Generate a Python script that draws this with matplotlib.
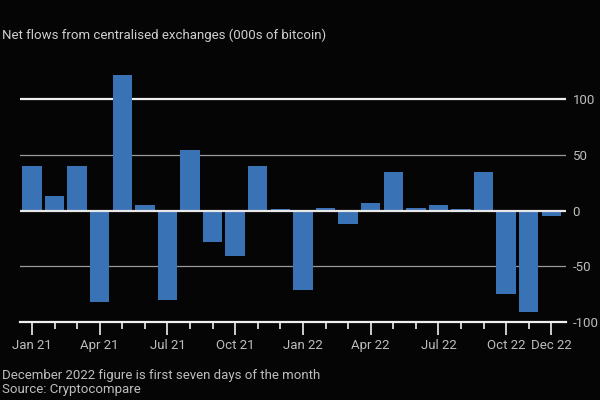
import numpy as np
import matplotlib.pyplot as plt

months = ["Jan 21", "Feb 21", "Mar 21", "Apr 21", "May 21", "Jun 21",
          "Jul 21", "Aug 21", "Sep 21", "Oct 21", "Nov 21", "Dec 21",
          "Jan 22", "Feb 22", "Mar 22", "Apr 22", "May 22", "Jun 22",
          "Jul 22", "Aug 22", "Sep 22", "Oct 22", "Nov 22", "Dec 22"]
net_flows = [40, 13, 40, -82, 122, 5, -80, 54, -28, -41, 40, 1,
             -71, 2, -12, 7, 35, 2, 5, 1, 35, -75, -91, -5]
labelled = ["Jan 21", "Apr 21", "Jul 21", "Oct 21", "Jan 22",
            "Apr 22", "Jul 22", "Oct 22", "Dec 22"]
yticks = [-100, -50, 0, 50, 100]

plt.rcParams['font.family'] = ['Roboto', 'DejaVu Sans']

bg = '#050505'
fig = plt.figure(figsize=(6, 4), dpi=100, facecolor=bg)
ax = fig.add_axes([0.034, 0.195, 0.909, 0.627], facecolor=bg)

x = np.arange(len(months))

# gridlines first so bars sit on top
ax.axhline(100, color='#f0f0f0', lw=1.6, zorder=1)
ax.axhline(50, color='#9a9a9a', lw=0.9, zorder=1)
ax.axhline(-50, color='#9a9a9a', lw=0.9, zorder=1)
ax.bar(x, net_flows, width=0.86, color='#3a72b6', zorder=2)
ax.axhline(0, color='#e8e8e8', lw=1.6, zorder=3)

ax.set_xlim(-0.51, 23.64)
ax.set_ylim(-100, 125)

for s in ['top', 'left', 'right']:
    ax.spines[s].set_visible(False)
ax.spines['bottom'].set_color('#f0f0f0')
ax.spines['bottom'].set_linewidth(1.6)

# y labels on the right
ax.yaxis.tick_right()
ax.set_yticks(yticks)
ax.set_yticklabels([str(v) for v in yticks])
ax.tick_params(axis='y', length=0, pad=5, labelsize=9.5, labelcolor='#bdbdbd')

# every month gets a tick, labelled ones longer
ax.set_xticks(x, minor=True)
ax.set_xticks([months.index(m) for m in labelled])
ax.set_xticklabels(labelled)
ax.tick_params(axis='x', which='major', length=9, width=1.2, color='#f0f0f0',
               labelsize=9.5, labelcolor='#bdbdbd', pad=3)
ax.tick_params(axis='x', which='minor', length=5, width=1.2, color='#f0f0f0')

fig.text(0.004, 0.912, "Net flows from centralised exchanges (000s of bitcoin)",
         color='#cfcfcf', fontsize=9.5, va='center')
fig.text(0.004, 0.062, "December 2022 figure is first seven days of the month",
         color='#bdbdbd', fontsize=9.5, va='center')
fig.text(0.004, 0.025, "Source: Cryptocompare",
         color='#bdbdbd', fontsize=9.5, va='center')

fig.savefig('out.png', dpi=100, facecolor=bg)
